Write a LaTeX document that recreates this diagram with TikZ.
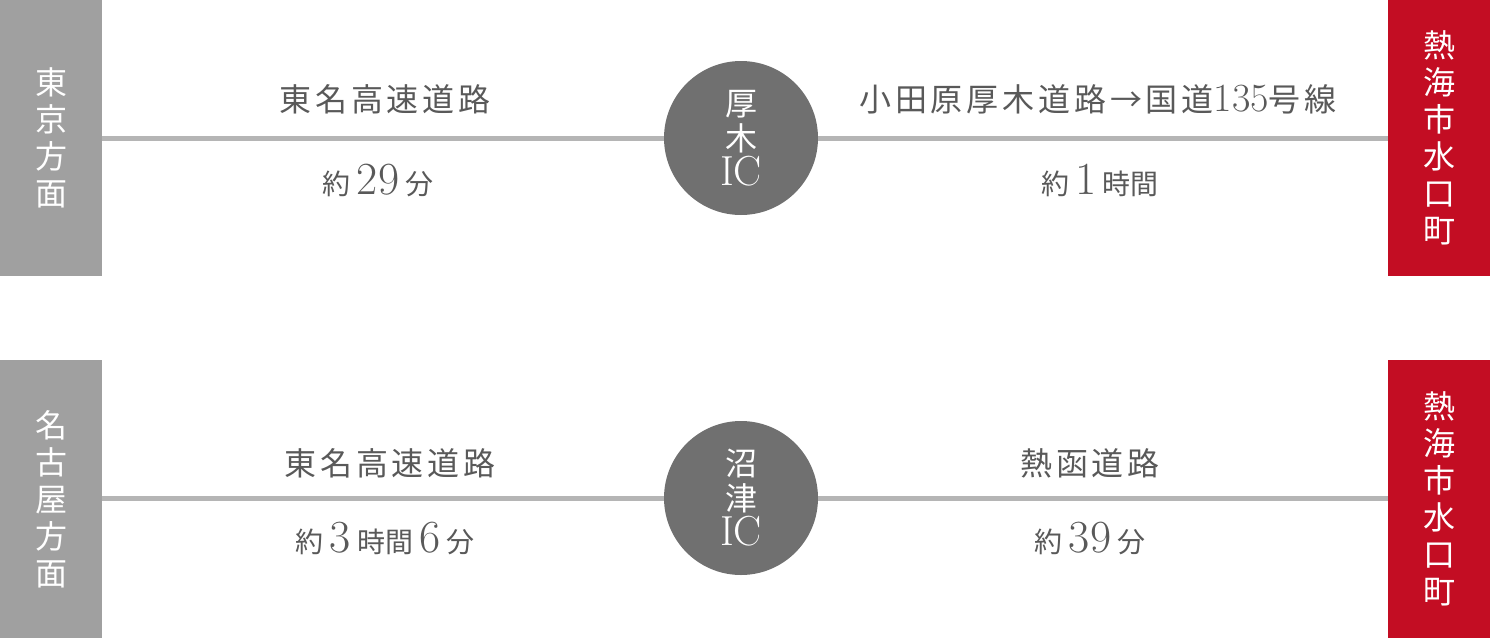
\documentclass[tikz,border=0pt]{standalone}
\usepackage{fontspec}
\newfontfamily\jp{Noto Sans CJK JP}
\usetikzlibrary{positioning}
\definecolor{sidegray}{HTML}{A0A0A0}
\definecolor{sidered}{HTML}{C30D23}
\definecolor{icgray}{HTML}{707070}
\definecolor{roadgray}{HTML}{B5B5B5}
\definecolor{labelgray}{HTML}{595959}
\newcommand{\bignum}[1]{{\rmfamily\fontsize{23}{24}\selectfont #1}}
\newcommand{\smalljp}[1]{{\jp\fontsize{14}{16}\selectfont #1}}

\begin{document}
\begin{tikzpicture}[x=0.5pt,y=-0.5pt,
    side/.style={fill=sidegray,inner sep=0pt,minimum width=51pt,minimum height=138pt,text=white,align=center,font=\jp\fontsize{16}{18.5}\selectfont},
    dest/.style={side,fill=sidered},
    ic/.style={circle,fill=icgray,inner sep=0pt,minimum size=77pt,text=white,align=center,font=\jp\fontsize{16}{17.5}\selectfont},
    road/.style={draw=roadgray,line width=2.5pt},
    roadname/.style={text=labelgray,font=\jp\fontsize{16}{18}\selectfont\addfontfeature{LetterSpace=12}},
    roadtime/.style={text=labelgray,inner sep=0pt}
  ]
    \useasboundingbox (0,0) rectangle (1490,638);

    % Tokyo
    \node[side] (tokyo) at (51,138) {東\\京\\方\\面};
    \node[dest] (atamiA) at (1439,138) {熱\\海\\市\\水\\口\\町};
    \node[ic] (atsugi) at (741,138) {厚\\木\\{\rmfamily\fontsize{21}{17.5}\selectfont IC}};
    \draw[road] (tokyo.east) -- (atsugi.west);
    \draw[road] (atsugi.east) -- (atamiA.west);
    \node[roadname] (tomeiA) at (385,99) {東名高速道路};
    \node[roadtime] (timeA) at (378,180) {\smalljp{約}\hspace{3pt}\bignum{29}\hspace{3pt}\smalljp{分}};
    \node[roadname] (odawara) at (1098,99) {小田原厚木道路→国道{\rmfamily\fontsize{20}{18}\selectfont 135}号線};
    \node[roadtime] (timeB) at (1100,180) {\smalljp{約}\hspace{3pt}\bignum{1}\hspace{3pt}\smalljp{時間}};

    % Nagoya
    \node[side,minimum height=139pt] (nagoya) at (51,499) {名\\古\\屋\\方\\面};
    \node[dest,minimum height=139pt] (atamiB) at (1439,499) {熱\\海\\市\\水\\口\\町};
    \node[ic] (numazu) at (741,498) {沼\\津\\{\rmfamily\fontsize{21}{17.5}\selectfont IC}};
    \draw[road] (nagoya.east |- numazu.west) -- (numazu.west);
    \draw[road] (numazu.east) -- (atamiB.west |- numazu.east);
    \node[roadname] (tomeiB) at (390,463) {東名高速道路};
    \node[roadtime] (timeC) at (385,538) {\smalljp{約}\hspace{3pt}\bignum{3}\hspace{3pt}\smalljp{時間}\hspace{3pt}\bignum{6}\hspace{3pt}\smalljp{分}};
    \node[roadname] (kankan) at (1090,463) {熱函道路};
    \node[roadtime] (timeD) at (1090,538) {\smalljp{約}\hspace{3pt}\bignum{39}\hspace{3pt}\smalljp{分}};
  \end{tikzpicture}
\end{document}
